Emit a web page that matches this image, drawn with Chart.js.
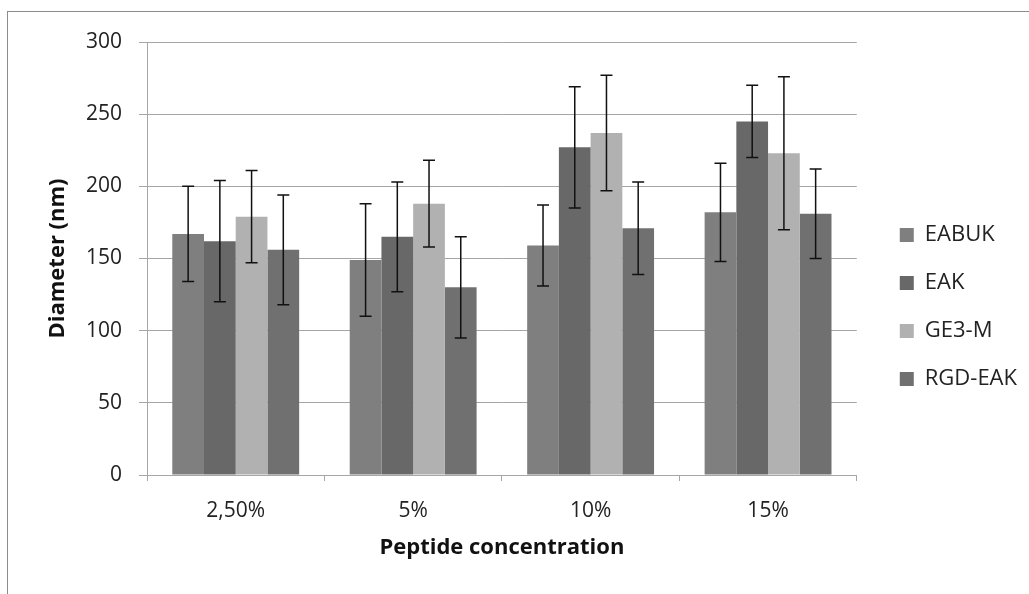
<!DOCTYPE html>
<html>
<head>
<meta charset="utf-8">
<title>Diameter vs peptide concentration</title>
<script src="https://cdn.jsdelivr.net/npm/chart.js@4/dist/chart.umd.min.js"></script>
<style>
  body { margin: 0; background: #fff; overflow: hidden; }
  #frame { position: absolute; left: 7px; top: 11px; width: 1100px; height: 700px; border: 1px solid #8c8c8c; }
  #diameterChart { position: absolute; left: 0; top: 0; }
</style>
</head>
<body>
<div id="frame"></div>
<canvas id="diameterChart" width="1029" height="594"></canvas>
<script>
const categories = ["2,50%", "5%", "10%", "15%"];

const eabuk = [167, 149, 159, 182];
const eabukErr = [33, 39, 28, 34];
const eak = [162, 165, 227, 245];
const eakErr = [42, 38, 42, 25];
const ge3m = [179, 188, 237, 223];
const ge3mErr = [32, 30, 40, 53];
const rgdEak = [156, 130, 171, 181];
const rgdEakErr = [38, 35, 32, 31];

const yTicks = [0, 50, 100, 150, 200, 250, 300];

const axisGray = "#a6a6a6";
const font = "'Open Sans', Lato, sans-serif";

// standard deviation whiskers, drawn on top of each bar
const errorBars = {
  id: "errorBars",
  afterDatasetsDraw(chart) {
    const ctx = chart.ctx;
    const y = chart.scales.y;
    ctx.save();
    ctx.strokeStyle = "#111";
    ctx.lineWidth = 1.5;
    chart.data.datasets.forEach((ds, di) => {
      const meta = chart.getDatasetMeta(di);
      meta.data.forEach((bar, i) => {
        const v = ds.data[i];
        const e = ds.errors[i];
        const top = y.getPixelForValue(v + e);
        const bottom = y.getPixelForValue(v - e);
        ctx.beginPath();
        ctx.moveTo(bar.x, top);
        ctx.lineTo(bar.x, bottom);
        ctx.moveTo(bar.x - 6, top);
        ctx.lineTo(bar.x + 6, top);
        ctx.moveTo(bar.x - 6, bottom);
        ctx.lineTo(bar.x + 6, bottom);
        ctx.stroke();
      });
    });
    ctx.restore();
  }
};

const ctx = document.getElementById("diameterChart").getContext("2d");

new Chart(ctx, {
  type: "bar",
  data: {
    labels: categories,
    datasets: [
      { label: "EABUK", data: eabuk, errors: eabukErr, backgroundColor: "#7f7f7f" },
      { label: "EAK", data: eak, errors: eakErr, backgroundColor: "#686868" },
      { label: "GE3-M", data: ge3m, errors: ge3mErr, backgroundColor: "#b1b1b1" },
      { label: "RGD-EAK", data: rgdEak, errors: rgdEakErr, backgroundColor: "#707070" },
    ],
  },
  options: {
    responsive: false,
    animation: false,
    devicePixelRatio: 1,
    categoryPercentage: 0.715,
    barPercentage: 1,
    layout: { padding: { top: 42, left: 40, right: 2, bottom: 22 } },
    plugins: {
      tooltip: { enabled: false },
      legend: {
        position: "right",
        labels: {
          boxWidth: 14,
          boxHeight: 14,
          padding: 26,
          color: "#222",
          font: { family: font, size: 22 },
        },
      },
    },
    scales: {
      x: {
        afterFit: s => { s.height = 97; },
        grid: { drawOnChartArea: false, tickLength: 6, color: axisGray },
        border: { color: axisGray },
        ticks: { padding: 17, color: "#222", font: { family: font, size: 21 } },
        title: {
          display: true,
          text: "Peptide concentration",
          color: "#111",
          font: { family: font, size: 22, weight: "bold" },
          padding: { top: 8, bottom: 11 },
        },
      },
      y: {
        min: 0,
        max: 300,
        afterBuildTicks: s => { s.ticks = yTicks.map(v => ({ value: v })); },
        afterFit: s => { s.width = 107; },
        grid: { color: axisGray, tickLength: 8 },
        border: { color: axisGray },
        ticks: { padding: 17, color: "#222", font: { family: font, size: 21 } },
        title: {
          display: true,
          text: "Diameter (nm)",
          color: "#111",
          font: { family: font, size: 22, weight: "bold" },
          padding: { top: 5, bottom: 0 },
        },
      },
      gap: {
        type: "linear",
        position: "right",
        grid: { display: false },
        border: { display: false },
        ticks: { display: false },
        afterFit: s => { s.width = 17; },
      },
    },
  },
  plugins: [errorBars],
});
</script>
</body>
</html>
